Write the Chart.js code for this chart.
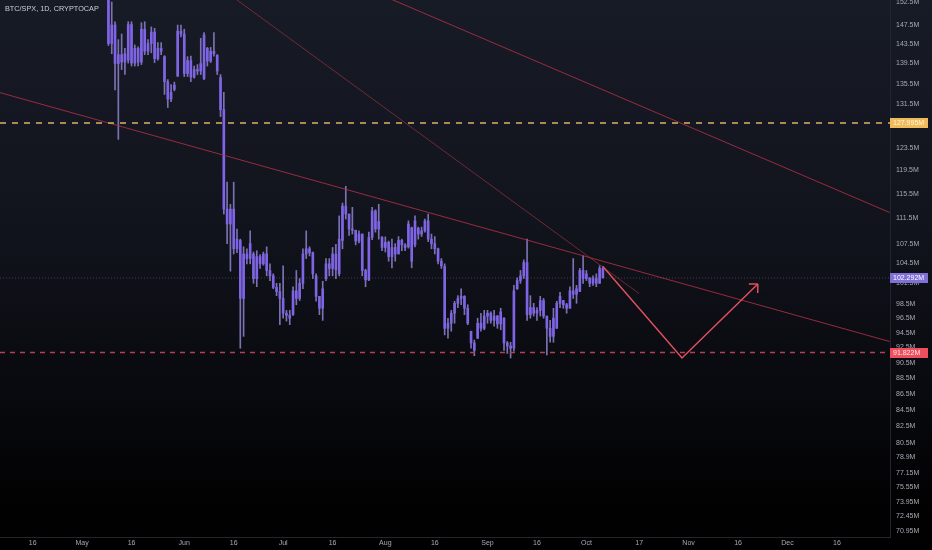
<!DOCTYPE html>
<html><head><meta charset="utf-8">
<script src="https://cdn.jsdelivr.net/npm/chart.js@4.4.1/dist/chart.umd.min.js"></script>
<style>
html,body{margin:0;padding:0;background:#000;}
#wrap{width:932px;height:550px;position:relative;background:linear-gradient(to bottom,#171b26 0%,#12141d 40%,#090a0f 70%,#020203 90%,#000 100%);}
canvas{display:block;}
</style></head><body>
<div id="wrap"><canvas id="c" width="932" height="550"></canvas></div>
<script>
// ---- DATA ----
const chartTitle = 'BTC/SPX, 1D, CRYPTOCAP';
const startDate = '2022-05-09'; // first daily candle
const opens = [
 157,143.6,147.5,139.5,141.3,139.8,140.2,147.6,139.6,142.6,139.8,146.6,142.0,143.6,146.0,140.5,142.6,140.9,135.9,132.5,134.4,137.0,146.2,
 145.6,137.5,140.1,136.8,138.3,138.0,136.5,142.6,140.0,142.0,141.2,136.7,130.5,113.0,110.6,113.0,106.7,108.0,99.3,105.9,105.2,105.9,102.2,105.5,104.4,105.9,103.4,102.6,100.9,100.3,
 99.3,97.2,96.9,97.0,100.4,99.3,101.5,105.9,106.7,106.1,102.6,99.6,97.9,102.2,104.4,103.7,105.9,102.9,108.0,113.5,112.2,109.8,109.6,107.9,109.0,103.4,102.0,108.5,112.7,109.8,108.5,
 106.9,107.7,105.5,106.9,105.9,108.0,107.3,107.0,110.0,107.3,109.9,109.0,109.5,111.1,108.2,107.5,106.7,104.8,104.0,95.1,95.8,97.2,98.6,99.3,99.6,97.9,94.7,93.1,93.75,95.8,95.1,
 96.8,97.2,96.2,96.8,95.7,96.5,93.1,92.7,92.4,100.7,101.9,102.6,104.6,97.0,98.0,97.2,97.6,99.0,96.8,95.1,94.0,95.1,98.6,99.0,98.4,97.9,100.4,99.9,100.3,103.4,
 102.2,102.3,101.5,102.2,101.5,103.7
];
const highs = [
 159,152.5,148.2,144.4,145.6,142.6,148.2,148.2,143.3,142.9,148.0,148.2,144.4,147.1,146.8,143.8,143.8,141.1,136.3,135.3,135.8,147.5,147.5,
 146.6,140.9,141.0,139.0,139.3,144.7,145.9,142.8,142.8,145.9,141.3,137.3,133.8,117.5,113.8,117.5,109.8,108.2,107.0,106.7,109.5,106.2,106.4,105.8,106.2,107.0,104.4,102.9,101.5,101.5,
 104.1,97.6,97.6,101.0,103.4,102.2,106.7,109.5,107.0,106.2,102.9,99.6,101.8,105.2,105.2,106.9,107.4,111.9,114.0,116.8,112.2,113.3,109.6,109.5,109.0,103.6,109.3,113.3,112.9,113.8,108.6,
 108.55,107.9,108.2,107.5,108.6,108.2,107.5,111.1,110.1,111.9,110.1,110.1,111.4,112.2,109.0,108.6,106.8,105.2,104.4,96.5,97.6,98.9,99.7,100.7,99.7,98.4,94.7,93.5,96.5,97.2,97.6,
 97.6,97.4,97.6,96.9,97.9,96.6,93.3,93.2,101.2,102.3,103.4,105.0,108.2,99.7,98.6,98.0,99.6,99.3,96.8,96.2,97.9,98.9,100.2,99.0,98.6,101.0,105.2,101.2,103.7,105.6,
 103.4,102.3,102.6,102.9,104.1,104.0
];
const lows = [
 143.2,141.5,134.3,125.0,138.3,137.3,139.6,139.0,139.0,139.0,139.3,141.3,141.3,141.7,139.7,140.2,141.3,133.4,130.9,132.0,134.1,136.9,145.0,
 136.9,136.9,135.9,136.6,137.3,137.3,136.3,139.0,139.7,141.0,137.3,129.2,112.2,107.5,103.3,105.9,106.1,92.4,94.0,104.4,104.4,101.5,101.0,103.7,104.2,102.6,101.9,100.7,99.7,95.6,
 96.5,96.1,95.6,96.9,98.4,99.0,100.7,105.2,105.6,102.2,98.9,97.0,96.2,101.9,102.6,102.6,102.2,102.6,106.7,111.4,108.8,109.0,107.3,107.6,102.6,101.0,101.9,108.1,109.3,108.2,106.4,
 106.2,104.8,103.8,104.8,105.9,106.4,106.4,106.8,103.8,107.0,108.2,108.6,109.3,107.8,106.7,105.9,104.4,103.7,94.2,93.75,94.7,95.8,98.0,98.4,97.0,95.6,92.4,91.4,93.7,94.7,94.9,
 95.8,95.8,95.4,95.1,94.9,92.1,91.7,91.1,92.0,100.6,101.5,102.2,96.2,96.5,96.8,96.2,96.8,96.5,91.5,93.2,93.2,95.1,98.0,97.9,97.2,97.9,99.3,98.6,100.3,101.5,
 101.9,101.0,101.2,101.0,101.5,102.3
];
const closes = [
 143.6,147.5,139.5,141.3,139.8,141.5,147.6,139.6,142.6,139.8,146.6,142.0,143.6,146.0,140.5,142.6,142.0,135.9,132.5,133.8,135.2,146.2,145.6,
 137.5,140.1,136.8,138.3,138.0,139.5,145.4,140.0,142.0,141.5,138.0,130.5,113.0,110.6,113.0,106.7,108.2,99.3,105.9,105.2,107.5,102.2,105.5,104.4,105.9,103.4,102.6,100.9,100.3,99.3,
 97.2,96.9,96.5,100.4,99.3,101.5,105.9,106.7,106.1,102.9,99.6,97.9,100.7,104.4,103.7,105.9,103.5,108.2,113.5,112.2,109.8,109.6,107.9,109.0,103.4,102.0,108.5,112.7,109.8,111.0,106.9,
 107.7,105.5,106.9,105.9,108.0,107.3,106.9,110.6,104.8,111.1,109.0,109.5,111.1,108.2,107.5,106.7,104.8,104.1,95.1,95.8,97.2,98.6,99.3,99.6,97.9,95.8,93.1,92.1,95.8,95.1,96.8,
 97.2,96.2,96.8,95.7,97.4,93.1,92.7,92.4,100.4,101.9,102.6,104.6,97.0,98.0,97.2,97.6,99.0,96.8,95.1,94.0,96.5,98.6,99.6,98.4,97.9,100.4,99.9,100.7,103.4,102.2,
 102.9,101.5,102.2,101.5,103.7,102.292
];

const yTickValues = [152.5,147.5,143.5,139.5,135.5,131.5,127.5,123.5,119.5,115.5,111.5,107.5,104.5,101.5,98.5,96.5,94.5,92.5,90.5,88.5,86.5,84.5,82.5,80.5,78.9,77.15,75.55,73.95,72.45,70.95];
const yTickLabels = ['152.5M','147.5M','143.5M','139.5M','135.5M','131.5M','127.5M','123.5M','119.5M','115.5M','111.5M','107.5M','104.5M','101.5M','98.5M','96.5M','94.5M','92.5M','90.5M','88.5M','86.5M','84.5M','82.5M','80.5M','78.9M','77.15M','75.55M','73.95M','72.45M','70.95M'];

const xTickDates = ['2022-04-16','2022-05-01','2022-05-16','2022-06-01','2022-06-16','2022-07-01','2022-07-16','2022-08-01','2022-08-16','2022-09-01','2022-09-16','2022-10-01','2022-10-17','2022-11-01','2022-11-16','2022-12-01','2022-12-16'];
const xTickLabels = ['16','May','16','Jun','16','Jul','16','Aug','16','Sep','16','Oct','17','Nov','16','Dec','16'];

// marked price levels
const levelValues = [127.995, 102.292, 91.822];
const levelLabels = ['127.995M','102.292M','91.822M'];

// drawn trendlines: [date, value]
const trendA = [['2022-04-06',133.77],['2023-01-01',93.3]];
const trendB = [['2022-06-17',152.94],['2022-10-17',100.0]];
const trendC = [['2022-08-03',153.05],['2023-01-01',112.45]];
// projected path
const projection = [['2022-10-06',104.0],['2022-10-30',91.1],['2022-11-22',101.4]];

// ---- BUILD ----
const DAY = 86400000;
function dayNum(s){ const p = s.split('-').map(Number); return Date.UTC(p[0],p[1]-1,p[2])/DAY; }
const startDay = dayNum(startDate);
const refDay = dayNum('2022-05-01');
const xMin = refDay - 24.9, xMax = refDay + 245.1;
const yMin = 70.31, yMax = 152.94;

const candleX = opens.map((_, i) => startDay + i);
const wickData = candleX.map((x, i) => ({x, y: [lows[i], highs[i]]}));
const bodyData = candleX.map((x, i) => ({x, y: [Math.min(opens[i], closes[i]), Math.max(opens[i], closes[i])]}));
const toPts = arr => arr.map(p => ({x: dayNum(p[0]), y: p[1]}));
const hLine = v => [{x: xMin, y: v}, {x: xMax, y: v}];

const FONT = "'Liberation Sans', Arial, sans-serif";
const TXT = '#a7aab3';

const zeroPad = s => { s.paddingTop = 0; s.paddingBottom = 0; s.paddingLeft = 0; s.paddingRight = 0; };

const overlay = {
  id: 'overlay',
  afterDatasetsDraw(chart) {
    const ctx = chart.ctx;
    const idx = chart.data.datasets.findIndex(d => d.label === 'projection');
    const pts = chart.getDatasetMeta(idx).data;
    const a = pts[pts.length - 2], b = pts[pts.length - 1];
    const ang = Math.atan2(b.y - a.y, b.x - a.x);
    const L = 9;
    ctx.save();
    ctx.strokeStyle = '#e0505e'; ctx.lineWidth = 1.5;
    ctx.beginPath();
    [Math.PI * 0.75, -Math.PI * 0.75].forEach(o => {
      ctx.moveTo(b.x, b.y);
      ctx.lineTo(b.x + L * Math.cos(ang + o), b.y + L * Math.sin(ang + o));
    });
    ctx.stroke();
    ctx.restore();
  },
  afterDraw(chart) {
    const ctx = chart.ctx, ys = chart.scales.y, area = chart.chartArea;
    const styles = [
      {bg: '#efbb5b', fg: '#fff6dc'},
      {bg: '#7f6fd6', fg: '#ffffff'},
      {bg: '#ee4f5f', fg: '#ffe8ea'}
    ];
    ctx.save();
    ctx.font = '7px ' + FONT;
    ctx.textBaseline = 'middle';
    levelValues.forEach((v, i) => {
      const py = Math.round(ys.getPixelForValue(v));
      ctx.fillStyle = styles[i].bg;
      ctx.fillRect(area.right, py - 5, 38, 10);
      ctx.fillStyle = styles[i].fg;
      ctx.textAlign = 'left';
      ctx.fillText(levelLabels[i], area.right + 3, py + 0.5);
    });
    ctx.fillStyle = '#c9ccd4';
    ctx.font = '7.3px ' + FONT;
    ctx.fillText(chartTitle, 5, 8.5);
    ctx.restore();
  }
};

new Chart(document.getElementById('c'), {
  type: 'bar',
  data: {
    datasets: [
      {type: 'line', label: 'projection', data: toPts(projection), borderColor: '#e0505e', borderWidth: 1.5, pointRadius: 0, tension: 0, order: 0},
      {type: 'line', label: 'level0', data: hLine(levelValues[0]), borderColor: '#d7b562', borderWidth: 1.5, borderDash: [6, 6], pointRadius: 0, order: 1},
      {type: 'line', label: 'level1', data: hLine(levelValues[1]), borderColor: 'rgba(150,140,190,0.35)', borderWidth: 1, borderDash: [1, 2], pointRadius: 0, order: 1},
      {type: 'line', label: 'level2', data: hLine(levelValues[2]), borderColor: '#b63e57', borderWidth: 1.5, borderDash: [5, 5], pointRadius: 0, order: 1},
      {type: 'line', label: 'trendA', data: toPts(trendA), borderColor: 'rgba(185,50,70,0.8)', borderWidth: 1, pointRadius: 0, order: 2},
      {type: 'line', label: 'trendB', data: toPts(trendB), borderColor: 'rgba(175,55,70,0.75)', borderWidth: 0.8, pointRadius: 0, order: 2},
      {type: 'line', label: 'trendC', data: toPts(trendC), borderColor: 'rgba(185,50,70,0.8)', borderWidth: 1, pointRadius: 0, order: 2},
      {label: 'body', data: bodyData, backgroundColor: '#7f64e6', borderWidth: 0, barThickness: 2, minBarLength: 1, grouped: false, order: 3},
      {label: 'wick', data: wickData, backgroundColor: '#7b72b4', borderWidth: 0, barThickness: 1, grouped: false, order: 4}
    ]
  },
  options: {
    responsive: false,
    animation: false,
    devicePixelRatio: 1,
    layout: {padding: 0},
    plugins: {legend: {display: false}, tooltip: {enabled: false}, title: {display: false}},
    scales: {
      x: {
        type: 'linear', min: xMin, max: xMax, offset: false, bounds: 'data',
        afterBuildTicks: s => { s.ticks = xTickDates.map(d => ({value: dayNum(d)})); },
        afterFit: s => { s.height = 13; zeroPad(s); },
        ticks: {autoSkip: false, maxRotation: 0, padding: 2, color: TXT, font: {family: FONT, size: 7}, callback: (v, i) => xTickLabels[i]},
        grid: {display: false, drawTicks: false},
        border: {display: true, color: '#22252e'}
      },
      y: {
        type: 'logarithmic', position: 'right', min: yMin, max: yMax, bounds: 'data',
        afterBuildTicks: s => { s.ticks = yTickValues.map(v => ({value: v})); },
        afterFit: s => { s.width = 42; zeroPad(s); },
        ticks: {autoSkip: false, padding: 6, color: TXT, font: {family: FONT, size: 7}, callback: (v, i) => yTickLabels[i]},
        grid: {display: false, drawTicks: false},
        border: {display: true, color: '#22252e'}
      }
    }
  },
  plugins: [overlay]
});
</script>
</body></html>
